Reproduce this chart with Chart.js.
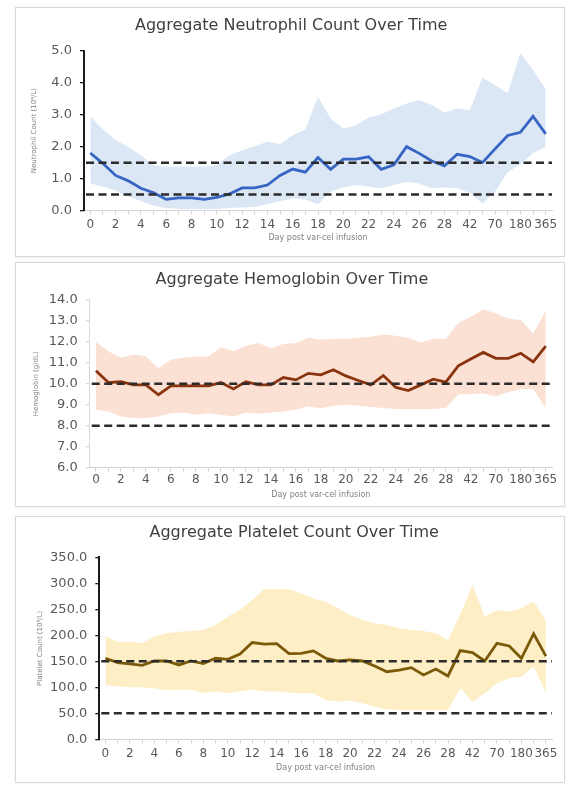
<!DOCTYPE html>
<html lang="en">
<head>
    <meta charset="UTF-8">
    <title>Aggregate Counts Over Time</title>
    <script src="https://cdn.jsdelivr.net/npm/chart.js"></script>
    <style>
        body { margin: 0; background: #ffffff; }
        .panel {
            position: absolute;
            left: 15px;
            width: 548px;
            border: 1px solid #d9d9d9;
            box-shadow: 0 0 2px rgba(0, 0, 0, 0.08);
            background: #ffffff;
        }
        .panel canvas { position: absolute; left: 0; top: 0; }
    </style>
</head>
<body>
    <div class="panel" style="top:7px;height:248px"><canvas id="neutrophilChart" width="548" height="248"></canvas></div>
    <div class="panel" style="top:262px;height:243px"><canvas id="hemoglobinChart" width="548" height="243"></canvas></div>
    <div class="panel" style="top:516px;height:265px"><canvas id="plateletChart" width="548" height="265"></canvas></div>

    <script>
        // Días post infusión (categorías del eje x)
        const days = ['0','1','2','3','4','5','6','7','8','9','10','11','12','13','14','15','16','17','18','19',
                      '20','21','22','23','24','25','26','27','28','35','42','56','70','90','180','270','365'];

        // Neutrófilos (10^9/L)
        const neutrophilMean  = [1.8,1.47,1.1,0.93,0.7,0.56,0.35,0.4,0.4,0.35,0.41,0.52,0.71,0.71,0.8,1.1,1.3,1.2,1.66,1.29,
                                 1.61,1.61,1.68,1.29,1.43,2.0,1.79,1.55,1.4,1.76,1.69,1.5,1.93,2.35,2.45,2.95,2.4];
        const neutrophilUpper = [2.95,2.54,2.2,2.0,1.73,1.42,1.37,1.37,1.37,1.37,1.42,1.73,1.89,2.01,2.15,2.08,2.36,2.54,3.56,2.88,
                                 2.57,2.67,2.91,3.01,3.19,3.35,3.45,3.3,3.06,3.19,3.14,4.16,3.92,3.68,4.93,4.4,3.8];
        const neutrophilLower = [0.85,0.75,0.62,0.45,0.3,0.15,0.08,0.05,0.05,0.05,0.05,0.08,0.1,0.12,0.2,0.3,0.38,0.35,0.2,0.6,
                                 0.72,0.8,0.75,0.7,0.8,0.9,0.85,0.7,0.72,0.7,0.55,0.22,0.6,1.2,1.45,1.8,2.0];
        const neutrophilRefs  = [0.5, 1.5];

        // Hemoglobina (g/dL)
        const hemoglobinMean  = [10.62,10.06,10.1,9.95,9.95,9.48,9.9,9.9,9.9,9.9,10.06,9.76,10.1,9.95,9.95,10.3,10.19,10.5,10.43,10.67,
                                 10.38,10.16,9.95,10.4,9.83,9.68,9.95,10.22,10.08,10.86,11.19,11.5,11.22,11.22,11.46,11.05,11.8];
        const hemoglobinUpper = [12.0,11.55,11.25,11.4,11.3,10.75,11.15,11.25,11.3,11.3,11.75,11.55,11.8,11.95,11.7,11.9,11.95,12.2,12.1,12.15,
                                 12.15,12.2,12.25,12.35,12.3,12.2,11.97,12.15,12.15,12.9,13.2,13.55,13.37,13.1,13.05,12.4,13.5];
        const hemoglobinLower = [8.76,8.68,8.44,8.37,8.37,8.44,8.6,8.63,8.52,8.6,8.52,8.44,8.63,8.57,8.63,8.68,8.76,8.92,8.84,8.95,
                                 9.0,8.95,8.9,8.85,8.8,8.8,8.8,8.8,8.85,9.5,9.5,9.55,9.4,9.6,9.75,9.75,8.85];
        const hemoglobinRefs  = [8.0, 10.0];

        // Plaquetas (10^9/L)
        const plateletMean  = [155.8,147.4,144.9,142.3,150.6,150.6,143,150.6,145.5,155.8,153.8,164,186,183,184,164.7,165.4,170,155.8,150.6,
                               152.6,150.6,141,130,133,137.8,123.7,135,121.8,170.5,166.7,150.6,184.6,179.5,155.8,203,160];
        const plateletUpper = [198.7,187.8,187.8,184.6,197.4,203.8,207,208.3,210.3,219.9,235.9,248.7,268,289,288.5,288.5,280.8,271,264.7,252,
                               239,229.5,223,219.9,213.5,210,208.3,203.8,191,240,297,236,248.7,245.5,252,265,228];
        const plateletLower = [104.5,101.3,100,100,98,94.9,94.9,96,89.7,91.7,88.5,91.7,96,91.7,91.7,89.7,88.5,88.5,75.6,72.4,
                               74.4,69.2,62.8,57.7,56.4,56.4,56.4,56.4,56.4,98,72.4,88.5,107.7,117.3,120.5,140,90];
        const plateletRefs  = [50, 150];

        const FONT = 'DejaVu Sans';

        // Líneas discontinuas de referencia
        const refLinesPlugin = {
            id: 'refLines',
            afterDatasetsDraw(chart, args, opts) {
                const ctx = chart.ctx;
                const area = chart.chartArea;
                const y = chart.scales.y;
                ctx.save();
                ctx.strokeStyle = '#2b2b2b';
                ctx.lineWidth = 2.5;
                ctx.setLineDash([8, 4.5]);
                opts.values.forEach(v => {
                    const py = y.getPixelForValue(v);
                    ctx.beginPath();
                    ctx.moveTo(area.left + 2, py);
                    ctx.lineTo(area.right, py);
                    ctx.stroke();
                });
                ctx.restore();
            }
        };

        function makeChart(id, cfg) {
            const ctx = document.getElementById(id).getContext('2d');
            return new Chart(ctx, {
                type: 'line',
                data: {
                    labels: days,
                    datasets: [
                        {
                            data: cfg.mean,
                            borderColor: cfg.lineColor,
                            borderWidth: 2.8,
                            pointRadius: 0,
                            tension: 0,
                            fill: false
                        },
                        {
                            data: cfg.upper,
                            borderWidth: 0,
                            pointRadius: 0,
                            tension: 0,
                            backgroundColor: cfg.bandColor,
                            fill: '+1'
                        },
                        {
                            data: cfg.lower,
                            borderWidth: 0,
                            pointRadius: 0,
                            tension: 0,
                            fill: false
                        }
                    ]
                },
                options: {
                    responsive: false,
                    animation: false,
                    events: [],
                    layout: { padding: { left: cfg.padLeft, right: 12, top: 0, bottom: cfg.padBottom } },
                    plugins: {
                        legend: { display: false },
                        tooltip: { enabled: false },
                        title: {
                            display: true,
                            text: cfg.title,
                            color: '#404040',
                            font: { family: FONT, size: 16, weight: 'normal' },
                            padding: { top: cfg.titleTop, bottom: cfg.titleBottom }
                        },
                        refLines: { values: cfg.refs }
                    },
                    scales: {
                        x: {
                            offset: true,
                            border: { color: '#d4d4d4', width: 1 },
                            grid: { drawOnChartArea: false, drawTicks: true, tickLength: 4, color: '#d4d4d4' },
                            ticks: {
                                autoSkip: false,
                                maxRotation: 0,
                                padding: cfg.xTickPad,
                                color: '#595959',
                                font: { family: FONT, size: 12 },
                                callback: (v, i) => (i % 2 === 0 ? days[i] : '')
                            },
                            title: {
                                display: true,
                                text: 'Day post var-cel infusion',
                                color: '#808080',
                                font: { family: FONT, size: 8 },
                                padding: { top: 0, bottom: 0 }
                            },
                            afterFit: s => { s.height = cfg.xHeight; }
                        },
                        y: {
                            min: cfg.min,
                            max: cfg.max,
                            border: { color: cfg.axisColor, width: cfg.axisWidth },
                            grid: { drawOnChartArea: false, drawTicks: true, tickLength: 4, color: cfg.axisColor, lineWidth: 1.3 },
                            ticks: {
                                stepSize: cfg.step,
                                padding: 8,
                                color: '#595959',
                                font: { family: FONT, size: 13 },
                                callback: v => v.toFixed(1)
                            },
                            title: {
                                display: true,
                                text: cfg.yTitle,
                                color: '#808080',
                                font: { family: FONT, size: 7 },
                                padding: { top: 0, bottom: 0 }
                            },
                            afterFit: s => { s.width = cfg.yWidth; }
                        }
                    }
                },
                plugins: [refLinesPlugin]
            });
        }

        makeChart('neutrophilChart', {
            title: 'Aggregate Neutrophil Count Over Time',
            yTitle: 'Neutrophil Count (10⁹/L)',
            mean: neutrophilMean, upper: neutrophilUpper, lower: neutrophilLower, refs: neutrophilRefs,
            lineColor: '#3665c4', bandColor: '#dce7f6',
            min: 0, max: 5, step: 0.5,
            axisColor: '#1a1a1a', axisWidth: 2,
            padLeft: 14.3, yWidth: 53.7, padBottom: 13.2, xHeight: 32.2, xTickPad: 3,
            titleTop: 8.4, titleBottom: 15.1
        });

        makeChart('hemoglobinChart', {
            title: 'Aggregate Hemoglobin Over Time',
            yTitle: 'Hemoglobin (g/dL)',
            mean: hemoglobinMean, upper: hemoglobinUpper, lower: hemoglobinLower, refs: hemoglobinRefs,
            lineColor: '#8a3410', bandColor: '#fbe1d4',
            min: 6, max: 14, step: 1,
            axisColor: '#d9d9d9', axisWidth: 1,
            padLeft: 15.8, yWidth: 57.9, padBottom: 6.2, xHeight: 32.1, xTickPad: 1,
            titleTop: 7.4, titleBottom: 10.4
        });

        makeChart('plateletChart', {
            title: 'Aggregate Platelet Count Over Time',
            yTitle: 'Platelet Count (10⁹/L)',
            mean: plateletMean, upper: plateletUpper, lower: plateletLower, refs: plateletRefs,
            lineColor: '#7a5a08', bandColor: '#fdeec6',
            min: 0, max: 350, step: 50,
            axisColor: '#1a1a1a', axisWidth: 2,
            padLeft: 20.4, yWidth: 62.9, padBottom: 9.2, xHeight: 33.5, xTickPad: 3,
            titleTop: 6.4, titleBottom: 14.7
        });
    </script>
</body>
</html>
